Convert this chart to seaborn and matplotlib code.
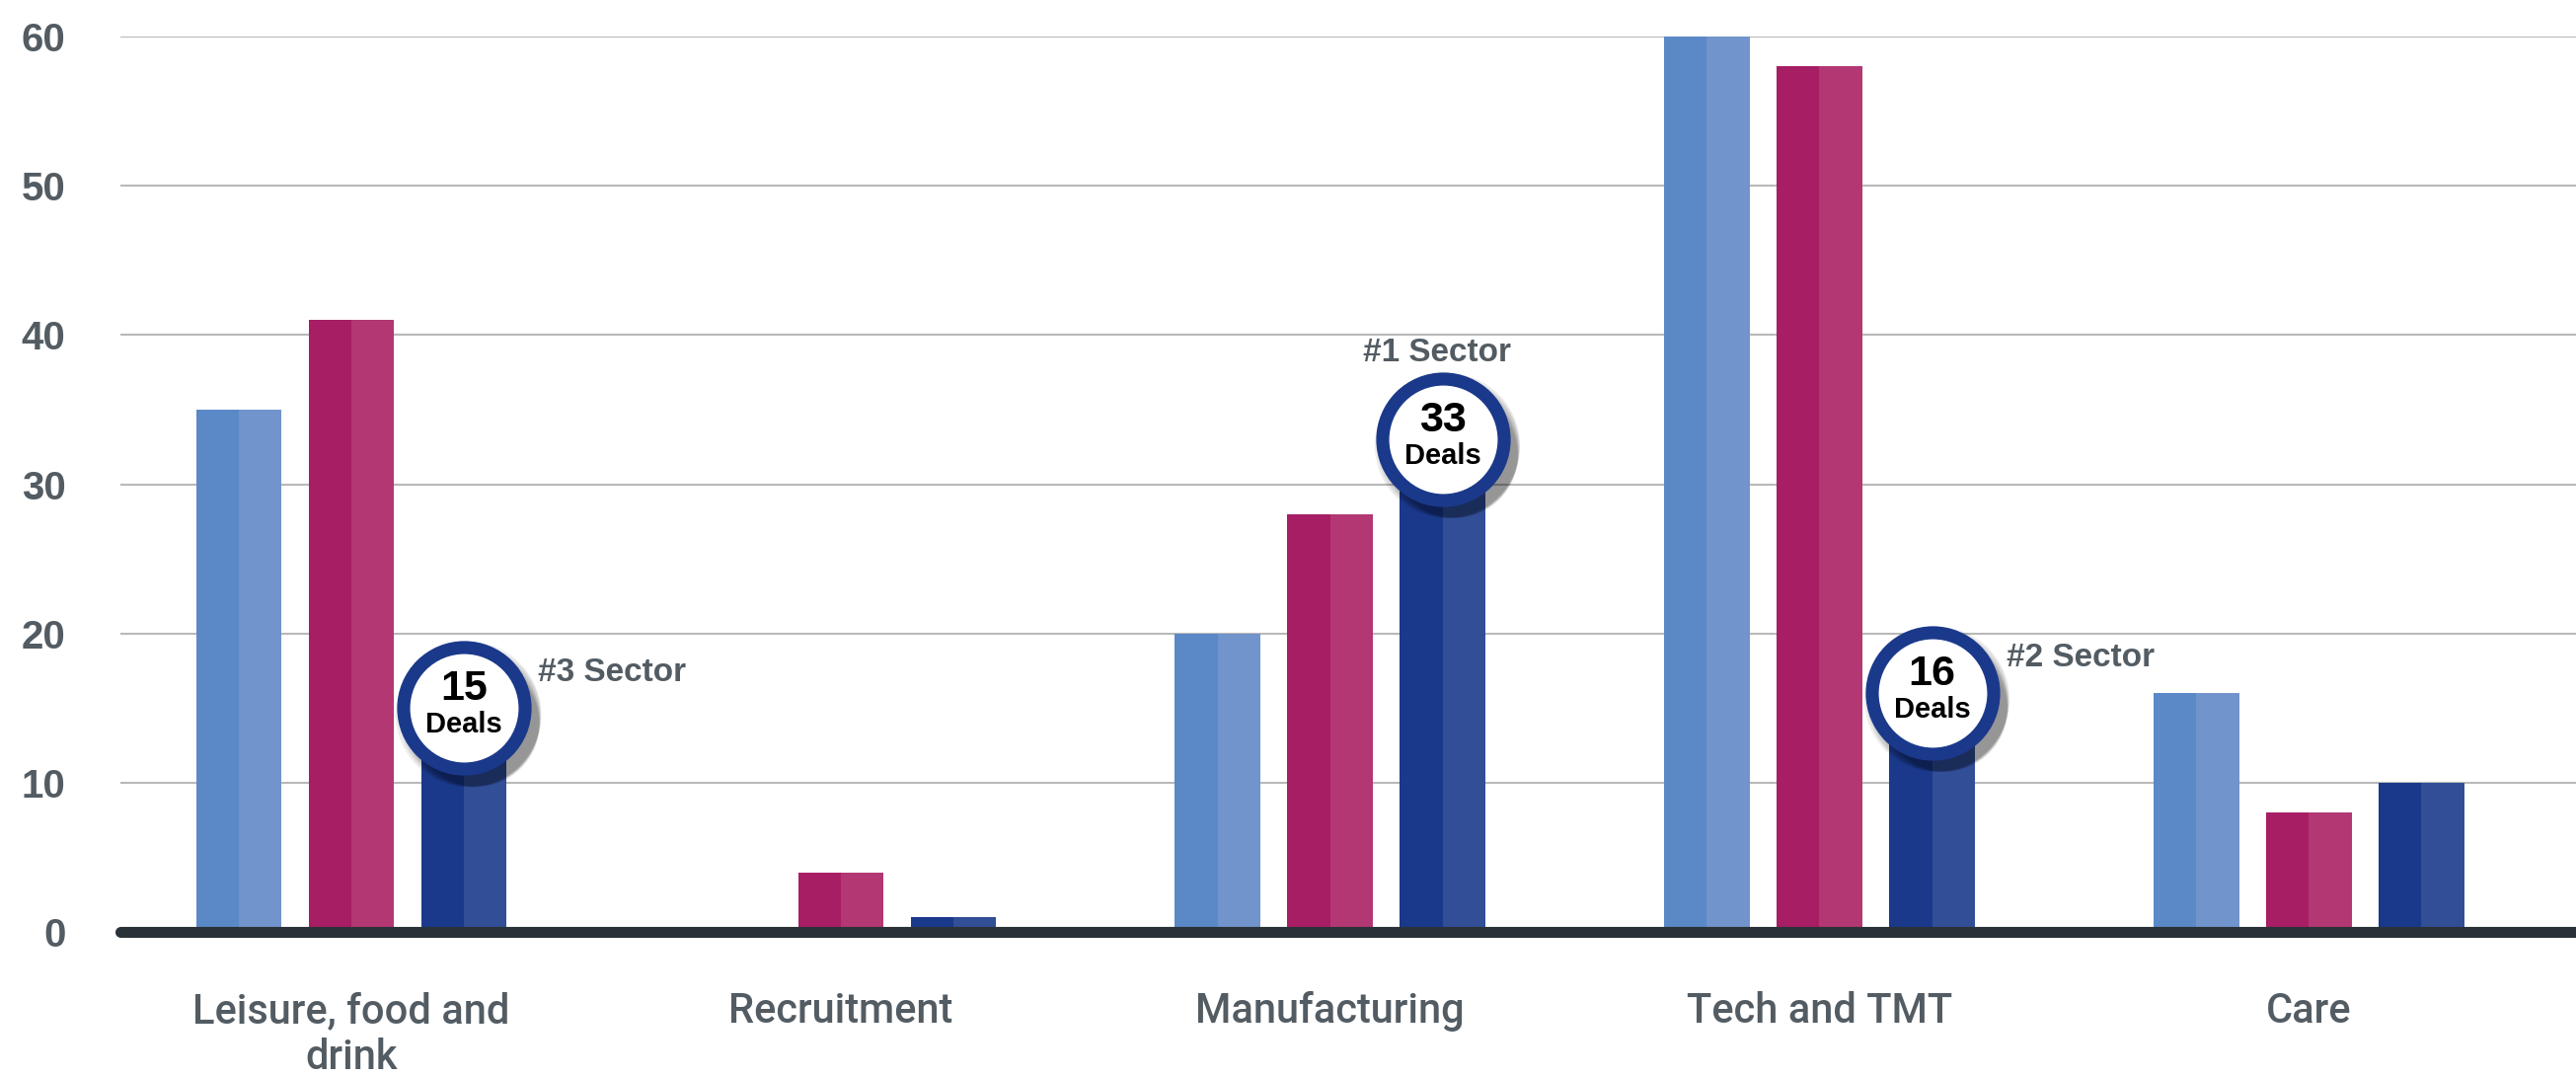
import pandas as pd
import numpy as np
import matplotlib.pyplot as plt
import matplotlib.colors as mcolors
import matplotlib.transforms as mtransforms
from matplotlib.patches import Rectangle
import seaborn as sns

# data
sectors = ['Leisure, food and\ndrink', 'Recruitment', 'Manufacturing', 'Tech and TMT', 'Care']
series = ['Series 1', 'Series 2', 'Series 3']
series_1 = [35, 0, 20, 60, 16]
series_2 = [41, 4, 28, 58, 8]
series_3 = [15, 1, 33, 16, 10]

# highlighted bars (series 3) and their rank labels
hl_sectors = ['Leisure, food and\ndrink', 'Manufacturing', 'Tech and TMT']
hl_ranks = ['#3 Sector', '#1 Sector', '#2 Sector']

yticks = [0, 10, 20, 30, 40, 50, 60]

left_colors = ['#5b88c6', '#a71e65', '#1b398b']
right_colors = ['#7094cb', '#b23773', '#314e97']
grey_txt = '#535c63'

df = pd.DataFrame({
    'sector': sectors * 3,
    'series': [s for s in series for _ in sectors],
    'deals': series_1 + series_2 + series_3,
})

sns.set_style('white')
plt.rcParams['font.family'] = ['Liberation Sans', 'DejaVu Sans']

fig = plt.figure(figsize=(26.1, 10.91), dpi=100)
ax = fig.add_axes([122 / 2610, 0.1347, 1 - 122 / 2610, 0.8313])

sns.barplot(data=df, x='sector', y='deals', hue='series', order=sectors,
            hue_order=series, palette=left_colors, saturation=1,
            width=0.69, gap=0.24, legend=False, ax=ax, zorder=2,
            linewidth=0, edgecolor='none')

# two-tone bars: lighter right half
tone = {mcolors.to_hex(l): r for l, r in zip(left_colors, right_colors)}
bars = list(ax.patches)
for p in bars:
    h = p.get_height()
    if h <= 0:
        continue
    c = tone[mcolors.to_hex(p.get_facecolor())]
    w = p.get_width()
    ax.add_patch(Rectangle((p.get_x() + w / 2, 0), w / 2, h, facecolor=c,
                           edgecolor='none', linewidth=0, zorder=2.1))

ax.set_xlim(-0.472, 4.546)
ax.set_ylim(0, 60)
ax.set_yticks(yticks)
ax.set_xlabel('')
ax.set_ylabel('')
sns.despine(ax=ax, left=True, bottom=True)
ax.yaxis.grid(True, color='#b9b9b9', linewidth=1.5, zorder=0)
ax.set_axisbelow(True)
ax.tick_params(axis='y', length=0, pad=40, labelsize=29, labelcolor=grey_txt)
ax.tick_params(axis='x', length=0, pad=43, labelsize=30, labelcolor=grey_txt)
for t in ax.get_yticklabels():
    t.set_fontweight('bold')
for t in ax.get_xticklabels():
    t.set_family(['Roboto', 'Liberation Sans'])
    t.set_fontweight('medium')
    t.set_linespacing(1.2)

# thick baseline
ax.axhline(0, color='#293237', linewidth=8, zorder=3, clip_on=False)

# deal bubbles on highlighted bars
dark = mcolors.to_hex(left_colors[2])
for p in bars:
    if mcolors.to_hex(p.get_facecolor()) != dark:
        continue
    x = p.get_x() + p.get_width() / 2
    y = p.get_height()
    name = sectors[int(round(x))]
    if name not in hl_sectors:
        continue
    rank = hl_ranks[hl_sectors.index(name)]
    # soft shadow
    for k in range(7):
        off = mtransforms.offset_copy(ax.transData, fig=fig,
                                      x=3 + k * 1.0, y=-(4 + k * 1.2), units='points')
        ax.scatter([x], [y], s=(106 - k * 2.5) ** 2, color='black', alpha=0.07,
                   linewidths=0, transform=off, zorder=4, clip_on=False)
    ax.scatter([x], [y], s=7850, facecolor='white', edgecolor='#1b398b',
               linewidths=9.5, zorder=5, clip_on=False)
    ax.annotate(str(int(y)), (x, y), xytext=(0, 14), textcoords='offset points',
                ha='center', va='center', fontsize=31, fontweight='bold',
                color='black', zorder=6)
    ax.annotate('Deals', (x, y), xytext=(0, -12), textcoords='offset points',
                ha='center', va='center', fontsize=21, fontweight='bold',
                color='black', zorder=6)
    if rank == '#1 Sector':
        ax.annotate(rank, (x, y), xytext=(-4, 63), textcoords='offset points',
                    ha='center', va='center', fontsize=24, fontweight='bold',
                    color=grey_txt, zorder=6)
    else:
        ax.annotate(rank, (x, y), xytext=(54, 26), textcoords='offset points',
                    ha='left', va='center', fontsize=24, fontweight='bold',
                    color=grey_txt, zorder=6)

fig.savefig('out.png', dpi=100)
